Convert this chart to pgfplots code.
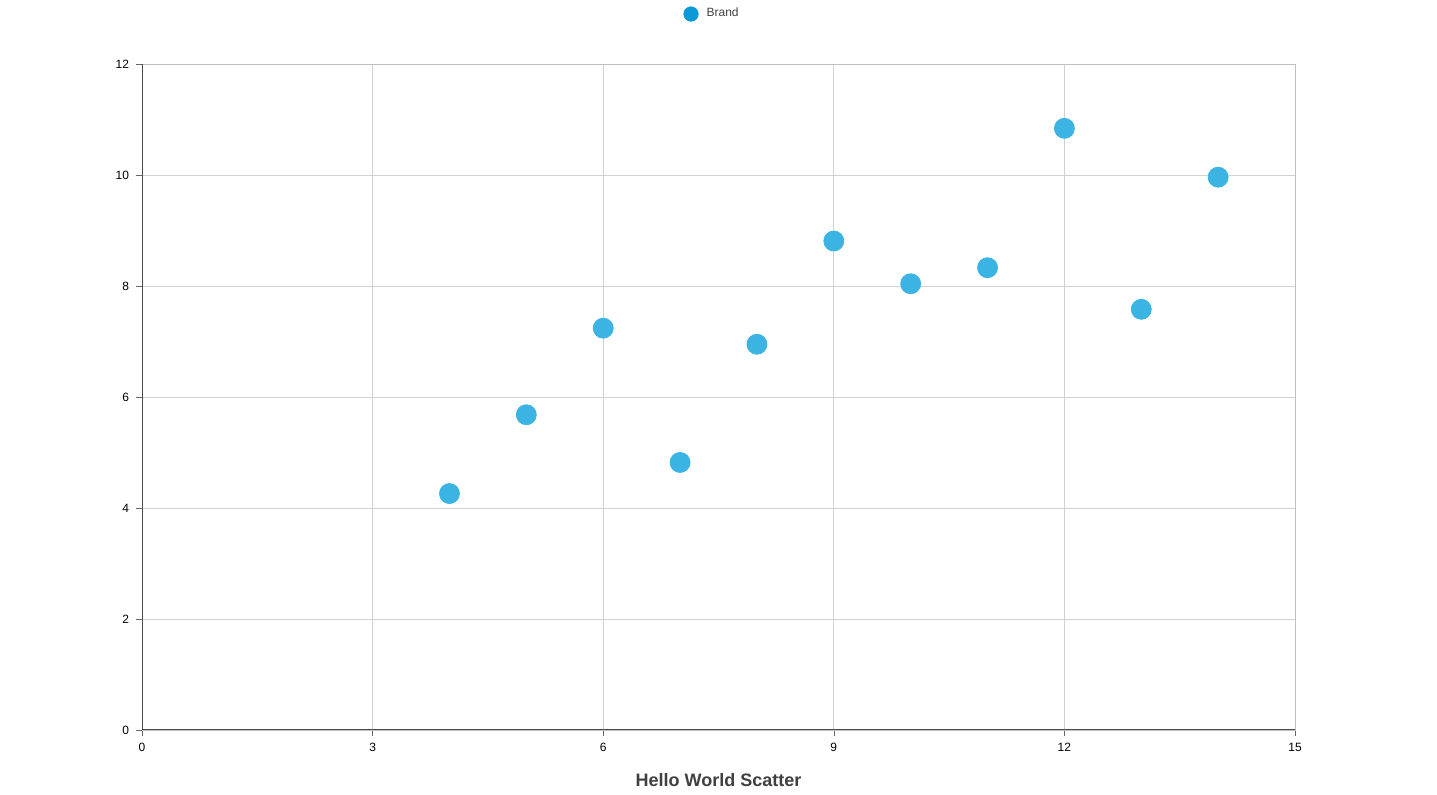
\documentclass[border=0pt]{standalone}
\usepackage{pgfplots}
\pgfplotsset{compat=1.18}
\usepackage{fontspec}
\setmainfont{Liberation Sans}
\definecolor{pt}{HTML}{3BB4E4}
\definecolor{lg}{HTML}{0A9AD8}
\begin{document}
\begin{tikzpicture}
\useasboundingbox (0,0) rectangle (718.5pt,397.5pt);
\begin{axis}[at={(71pt,32.5pt)},anchor=south west,scale only axis,
width=576.5pt,height=333pt,
xmin=0,xmax=15,ymin=0,ymax=12,
xtick={0,3,...,15},ytick={0,2,...,12},
grid=major,major grid style={draw=black!18,line width=0.4pt},
axis line style={draw=black!25,line width=0.4pt},
tick style={draw=black!60},tick align=outside,major tick length=3pt,
xtick pos=bottom,ytick pos=left,
tick label style={font=\fontsize{6}{7}\selectfont},
/pgf/number format/assume math mode=true,
xlabel={\textbf{Hello World Scatter}},
xlabel style={font=\fontsize{9}{10}\selectfont,color=black!75,yshift=-4pt},
legend style={at={(0.497,1.075)},anchor=center,draw=none,font=\fontsize{6}{7}\selectfont,fill=none,
  nodes={text=black!75,inner xsep=4pt}},
legend image code/.code={\fill[lg] (0.15cm,0) circle (3.6pt);},
]
\draw[black!70,line width=0.5pt] (rel axis cs:0,0) -- (rel axis cs:1,0);
\draw[black!70,line width=0.5pt] (rel axis cs:0,0) -- (rel axis cs:0,1);
\addplot[only marks,mark=*,mark size=5pt,mark options={fill=pt,draw=pt}] coordinates {
(10,8.04)(8,6.95)(13,7.58)(9,8.81)(11,8.33)(14,9.96)(6,7.24)(4,4.26)(12,10.84)(7,4.82)(5,5.68)};
\addlegendentry{Brand}
\end{axis}
\end{tikzpicture}
\end{document}
